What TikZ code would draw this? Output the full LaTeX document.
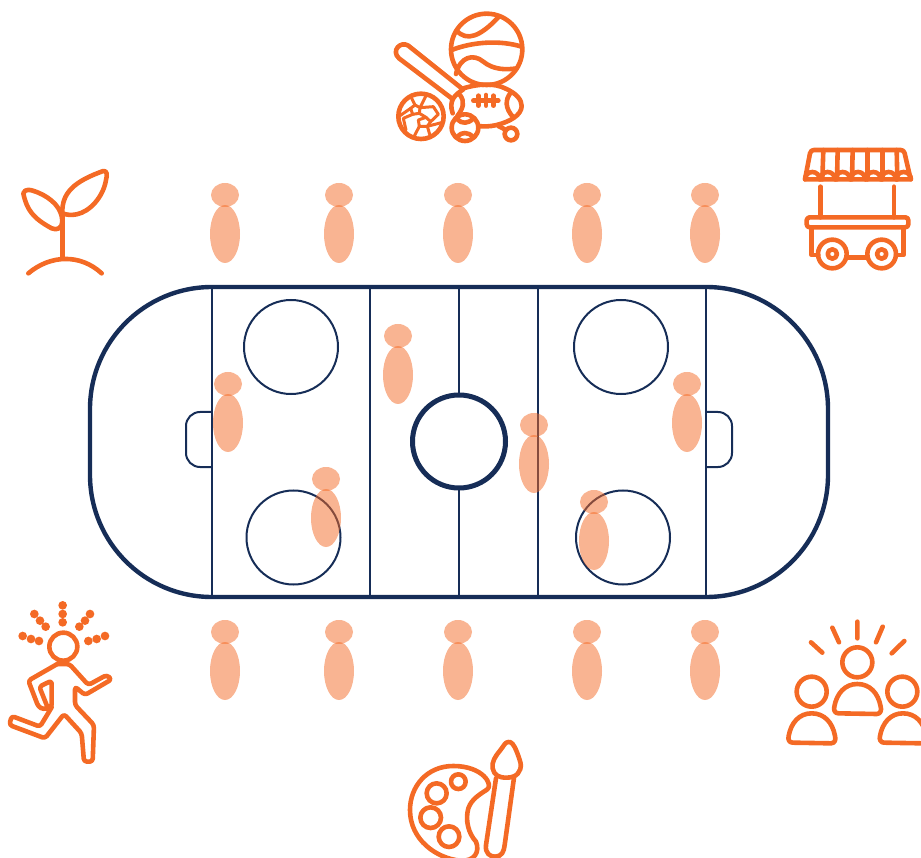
\documentclass[tikz,border=0pt]{standalone}
\definecolor{rinkblue}{HTML}{162D57}
\definecolor{icono}{HTML}{F46A25}
\tikzset{
  rinkthin/.style={draw=rinkblue,line width=2pt},
  rinkthick/.style={draw=rinkblue,line width=4.4pt},
  ico/.style={draw=icono,line width=4.6pt,line join=round,line cap=round},
  icothin/.style={draw=icono,line width=3pt,line join=round,line cap=round},
  icofill/.style={fill=icono,draw=none},
  pz/.style={fill=icono,fill opacity=.5,draw=none},
}
\newcommand{\player}[2]{%
  \fill[pz] (#1,#2) ellipse [x radius=14,y radius=12];
  \fill[pz] (#1,#2+39) ellipse [x radius=15,y radius=29];
}
\newcommand{\domeshape}{%
  \draw[ico] (175,310) -- (290,312) .. controls (302,312) and (305,300) .. (302,290) .. controls (295,250) and (270,222) .. (232,222) .. controls (195,222) and (170,250) .. (163,290) .. controls (160,300) and (165,310) .. (175,310) -- cycle;
}
\begin{document}
\begin{tikzpicture}[x=1pt,y=-1pt]
\useasboundingbox (0,0) rectangle (921,858);
\clip (0,0) rectangle (921,858);
% rink
\draw[rinkthick,rounded corners=122pt] (90,287) rectangle (828,597);
\foreach \x in {212,370,538,706} \draw[rinkthin] (\x,287) -- (\x,597);
\draw[rinkthin] (459,287) -- (459,395);
\draw[rinkthin] (459,487) -- (459,597);
\draw[rinkthin] (291,347) circle [radius=47];
\draw[rinkthin] (621,347) circle [radius=47];
\draw[rinkthin] (293.5,537.5) circle [radius=47];
\draw[rinkthin] (623,537.5) circle [radius=47];
\draw[draw=rinkblue,line width=5pt] (459,441.5) circle [radius=46.5];
\draw[rinkthin,rounded corners=14pt] (212,412) -- (186,412) -- (186,467) -- (212,467);
\draw[rinkthin,rounded corners=14pt] (706,412) -- (732,412) -- (732,467) -- (706,467);
% players
\foreach \x in {225,339,458,587,705} {\player{\x}{195}\player{\x}{632}}
\player{398}{336}
\player{228}{384}
\player{326}{479}
\player{534}{425}
\player{594}{502}
\player{687}{384}
% sports
\begin{scope}[shift={(380,0)},scale=1/3]
\draw[ico] (320,148) circle [radius=107];
\draw[ico] (230,92) .. controls (260,125) and (300,110) .. (355,52);
\draw[ico] (215,150) .. controls (280,125) and (360,120) .. (425,140);
\draw[ico] (228,222) .. controls (240,170) and (280,160) .. (310,185) .. controls (340,210) and (380,210) .. (410,205);
\draw[ico] (245,265) -- (85,137) .. controls (62,122) and (32,152) .. (57,175) -- (215,295);
\draw[ico] (250,265) .. controls (300,250) and (345,250) .. (375,265) .. controls (410,280) and (425,300) .. (425,318) .. controls (425,345) and (390,365) .. (350,375) .. controls (330,380) and (310,380) .. (295,378);
\draw[ico] (218,340) .. controls (205,300) and (225,285) .. (250,268);
\draw[ico] (240,285) .. controls (255,305) and (250,325) .. (232,348);
\draw[ico] (392,278) .. controls (375,300) and (375,325) .. (400,352);
\draw[ico] (280,302) -- (355,302);
\draw[ico] (295,287) -- (295,317) (318,285) -- (318,317) (340,287) -- (340,317);
\draw[ico,fill=white] (255,383) circle [radius=40];
\draw[ico] (232,358) .. controls (245,372) and (265,372) .. (280,355);
\draw[ico] (232,410) .. controls (245,395) and (265,395) .. (280,412);
\draw[ico] (393,402) circle [radius=19];
\draw[ico] (355,378) -- (378,390);
\end{scope}
% soccer ball
\begin{scope}[shift={(390,85)},scale=1/3]
\draw[ico] (93,94) circle [radius=68];
\draw[icothin] (62,70) -- (75,60) -- (90,68) -- (88,85) -- (68,88) -- cycle;
\draw[icothin] (85,105) -- (108,97) -- (122,110) -- (112,124) -- (88,124) -- cycle;
\draw[icothin] (75,60) -- (62,34);
\draw[icothin] (90,68) -- (108,32);
\draw[icothin] (90,68) -- (130,65) -- (145,88) -- (122,110);
\draw[icothin] (88,85) -- (108,97);
\draw[icothin] (62,70) -- (30,92);
\draw[icothin] (68,88) -- (40,100) -- (48,135);
\draw[icothin] (88,124) -- (72,155);
\draw[icothin] (112,124) -- (122,158);
\draw[icothin] (112,124) -- (158,112);
\end{scope}
% cart
\begin{scope}[shift={(790,140)},scale=1/3]
\draw[ico] (45,118) -- (60,40) .. controls (62,33) and (66,30) .. (72,30) -- (332,30) .. controls (338,30) and (342,33) .. (344,40) -- (362,118) -- cycle;
\foreach \a/\b in {100/97,143/141,188/186,232/232,277/277,320/322} \draw[ico] (\a,30) -- (\b,118);
\foreach \a in {45,91,136,182,228,274,319} \draw[ico] (\a,118) arc[start angle=180,end angle=360,radius=22];
\draw[ico] (91,140) -- (91,232) (312,140) -- (312,232);
\draw[ico,rounded corners=3pt] (50,232) rectangle (355,262);
\draw[ico] (65,262) -- (65,345) -- (85,345);
\draw[ico] (340,262) -- (340,345) -- (318,345);
\draw[ico] (170,352) -- (232,352);
\draw[ico] (127,342) circle [radius=43];
\draw[ico] (127,342) circle [radius=14];
\draw[ico] (275,342) circle [radius=43];
\draw[ico] (275,342) circle [radius=14];
\end{scope}
% plant
\begin{scope}[shift={(10,160)},scale=1/3]
\draw[ico] (157,295) -- (157,160);
\draw[ico] (40,100) .. controls (45,85) and (60,88) .. (85,98) .. controls (125,115) and (157,145) .. (157,185) .. controls (157,205) and (140,212) .. (125,205) .. controls (70,175) and (50,150) .. (40,100) -- cycle;
\draw[ico] (157,160) .. controls (155,100) and (190,65) .. (280,33) .. controls (292,32) and (292,45) .. (288,60) .. controls (280,110) and (240,155) .. (200,163) .. controls (185,166) and (170,165) .. (157,160);
\draw[ico] (55,340) .. controls (120,285) and (210,280) .. (275,340);
\end{scope}
% runner
\begin{scope}[shift={(0,590)},scale=1/3]
\draw[ico] (190,170) circle [radius=42];
\foreach \x/\y in {188/46,188/72,188/97,103/72,120/92,137/110,68/138,93/147,117/153,270/72,255/92,238/110,315/138,290/147,265/153}
  \fill[icofill] (\x,\y) circle [radius=13];
\draw[ico,rounded corners=3pt] (172,222) -- (208,222) -- (265,285) -- (320,255) -- (335,268) -- (255,315) -- (225,290) -- (225,345) -- (282,405) -- (278,515) -- (252,515) -- (245,430) -- (192,372) -- (135,445) -- (28,405) -- (35,378) -- (120,410) -- (155,352);
\draw[ico,rounded corners=3pt] (172,222) -- (85,272) -- (115,350) -- (130,358) -- (155,352) -- (155,272) -- (118,290) -- (140,345);
\end{scope}
% people
\begin{scope}[shift={(780,610)},scale=1/3]
\draw[ico] (232,35) -- (232,85) (157,53) -- (177,97) (308,50) -- (288,97) (93,97) -- (127,128) (373,93) -- (335,130);
\draw[ico] (232,157) circle [radius=45];
\draw[ico] (95,245) circle [radius=45];
\draw[ico] (367,245) circle [radius=45];
\domeshape
\begin{scope}[shift={(-137,88)}]\domeshape\end{scope}
\begin{scope}[shift={(137,88)}]\domeshape\end{scope}
\end{scope}
% palette
\begin{scope}[shift={(400,730)},scale=1/3]
\draw[ico] (262,178) .. controls (280,165) and (250,108) .. (160,108) .. controls (80,108) and (30,170) .. (30,240) .. controls (30,330) and (110,385) .. (180,392) .. controls (225,395) and (240,365) .. (228,335) .. controls (205,310) and (195,270) .. (205,235) .. controls (215,205) and (245,190) .. (262,178);
\draw[ico] (175,155) circle [radius=22];
\draw[ico] (110,190) circle [radius=30];
\draw[ico] (92,263) circle [radius=31];
\draw[ico] (147,320) circle [radius=31];
\draw[ico] (325,36) .. controls (315,36) and (310,50) .. (300,62) .. controls (285,80) and (275,95) .. (278,115) .. controls (282,135) and (295,143) .. (320,143) .. controls (350,143) and (365,125) .. (362,100) .. controls (355,75) and (345,50) .. (338,42) .. controls (333,36) and (330,36) .. (325,36) -- cycle;
\draw[ico] (288,145) -- (258,345) .. controls (255,370) and (270,380) .. (285,380) .. controls (305,380) and (312,365) .. (314,345) -- (342,143);
\end{scope}
\end{tikzpicture}
\end{document}
